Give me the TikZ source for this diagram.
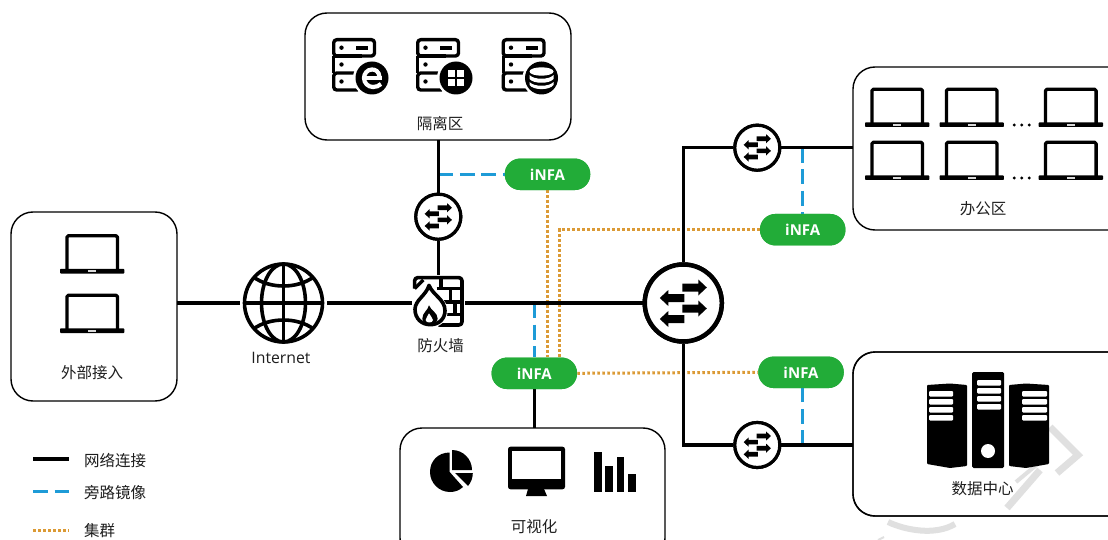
\documentclass[tikz,border=0pt]{standalone}
\usepackage{fontspec}
\setmainfont{Noto Sans CJK SC}
\newfontfamily\latinfont{Open Sans}
\definecolor{infagreen}{HTML}{22AC38}
\definecolor{mirrorblue}{HTML}{1E9BD7}
\definecolor{clusterorange}{HTML}{DB9A35}
\definecolor{txt}{HTML}{1E1E1E}
\definecolor{wmark}{HTML}{E0E0E0}
\tikzset{
  x=1pt,y=-1pt,
  zone/.style={draw=black,line width=1.4pt,rounded corners=22pt,fill=white},
  netline/.style={draw=black,line width=3.4pt},
  mirror/.style={draw=mirrorblue,line width=3pt,dash pattern=on 15pt off 6.5pt},
  cluster/.style={draw=clusterorange,line width=3pt,dash pattern=on 2.6pt off 2.4pt},
  infa/.style={fill=infagreen,rounded corners=15.5pt,minimum width=85.5pt,minimum height=31.5pt,inner sep=0pt,text=white,font=\latinfont\bfseries\fontsize{15}{15}\selectfont},
  lbl/.style={text=txt,inner sep=0pt,font=\fontsize{15.5}{15.5}\selectfont},
  sw/.style={circle,draw=black,fill=white,line width=3.2pt,inner sep=0pt,minimum size=45pt},
  swbig/.style={circle,draw=black,fill=white,line width=4.5pt,inner sep=0pt,minimum size=77pt},
  anchorpt/.style={inner sep=0pt,minimum size=0pt},
  wm/.style={draw=wmark,line width=7pt},
}
% laptop centred on x, base line at y
\newcommand{\laptop}[2]{%
 \begin{scope}[shift={(#1,#2)}]
  \draw[line width=3.3pt,line join=round,rounded corners=1.5pt] (-25.3,-1) -- (-25.3,-35.8) -- (25.3,-35.8) -- (25.3,-1);
  \fill[rounded corners=.8pt] (-32.2,-2.6) rectangle (32.2,2);
  \fill[black!15] (-4,-1.2) rectangle (4,.6);
 \end{scope}}
% switch arrows centred on the circle; #3 scales them
\newcommand{\swarrows}[3]{%
 \begin{scope}[shift={(#1,#2)},scale=#3]
  \foreach \yy/\dd in {-15.5/1,5.5/1,-5/-1,16/-1}{
   \fill[shift={(0,\yy)},xscale=\dd] (-1,-4) -- (15,-4) -- (15,-8) -- (23.5,0) -- (15,8) -- (15,4) -- (-1,4) -- cycle;
  }
 \end{scope}}
% server with a badge: #1 left x, #2 top y of the icon
\newcommand{\serverbase}[2]{%
 \begin{scope}[shift={(#1,#2)}]
  \draw[line width=3.4pt,line join=round,rounded corners=3pt] (1.7,1.7) rectangle (42.5,18);
  \draw[line width=3.4pt] (1.7,18) -- (1.7,35);
  \draw[line width=3.4pt,rounded corners=3pt] (26,35) -- (1.7,35) -- (1.7,52) -- (26,52);
  \draw[line width=3.4pt] (1.7,18) -- (30,18);
  \fill (9.5,9.7) circle (2.2);
  \fill (9.5,26.5) circle (2.2);
  \fill (9.5,43.5) circle (2.2);
  \fill (24,7.8) rectangle (36,11.8);
  \fill[white] (40,40) circle (19);
  \fill[black] (40,40) circle (16.5);
 \end{scope}}
\begin{document}
\begin{tikzpicture}
\useasboundingbox (0,0) rectangle (1108,540);
\fill[white] (0,0) rectangle (1108,540);

% zones
\draw[zone] (11,212) rectangle (177,401);
\draw[zone] (305,13) rectangle (571,140);
\draw[zone] (853,67) rectangle (1130,230);
\draw[zone] (853,352) rectangle (1130,516);
\draw[zone] (400,428) rectangle (665,560);

% watermark
\draw[wm,line join=miter] (1050,427) -- (1078,455) -- (1057,473);
\draw[wm] (1040,470) -- (1007,508);
\draw[wm,line width=4pt] (1016,482) -- (1040,462);
\draw[wm,line width=6pt] (888,522) .. controls (905,530) and (935,536) .. (955,524);
\draw[wm,line width=2pt] (878,540) -- (884,537);
\draw[zone,fill=none] (853,352) rectangle (1130,516);

\node[anchorpt] (ext) at (177,303) {};
\node[anchorpt] (dmz) at (438.3,140) {};
\node[anchorpt] (office) at (853,147.7) {};
\node[anchorpt] (dc) at (853,445) {};
\node[anchorpt] (vis) at (534.3,428) {};

% key nodes (shapes that the lines run into)
\node[circle,inner sep=0pt,minimum size=87pt] (net) at (283.5,303) {};
\node[inner sep=0pt,minimum width=50pt,minimum height=50pt] (fw) at (438.3,303) {};
\node[sw] (sw1) at (438.3,216.7) {};
\node[sw] (sw2) at (757.3,147.7) {};
\node[sw] (sw3) at (757.3,445) {};
\node[swbig] (core) at (683.3,303) {};
\node[infa] (i1) at (547.5,174.3) {};
\node[infa] (i2) at (802.7,229.7) {};
\node[infa] (i3) at (534.3,373.3) {};
\node[infa] (i4) at (801,372.3) {};

% junction coordinates
\coordinate (a1) at (438.3,174.3);
\coordinate (b1) at (559.5,229.7);
\coordinate (o1) at (802.3,147.7);
\coordinate (d1) at (802.3,445);
\coordinate (m1) at (534.3,303);
\coordinate (tl) at (683.3,147.7);
\coordinate (bl) at (683.3,445);

% cluster lines
\draw[cluster] (i1.south) -- (i1.south |- i3.north);
\draw[cluster] (i2.west) -- (b1) -- (b1 |- i3.north);
\draw[cluster] (i3.east) -- (i4.west);
% mirror lines
\draw[mirror] (a1) -- (i1.west);
\draw[mirror] (o1) -- (o1 |- i2.north);
\draw[mirror] (d1) -- (d1 |- i4.south);
\draw[mirror] (m1) -- (i3.north);
% network lines
\draw[netline] (ext) -- (net);
\draw[netline] (net) -- (fw);
\draw[netline] (fw) -- (core);
\draw[netline] (dmz) -- (sw1);
\draw[netline] (sw1) -- (fw);
\draw[netline] (core) -- (tl) -- (sw2);
\draw[netline] (sw2) -- (office);
\draw[netline] (core) -- (bl) -- (sw3);
\draw[netline] (sw3) -- (dc);
\draw[netline] (i3) -- (vis);
% nodes over the lines
\node[infa,text depth=0pt] at (i1) {\raisebox{-1pt}{iNFA}};
\node[infa] at (i2) {\raisebox{-1pt}{iNFA}};
\node[infa] at (i3) {\raisebox{-1pt}{iNFA}};
\node[infa] at (i4) {\raisebox{-1pt}{iNFA}};
\node[sw] at (sw1) {};
\node[sw] at (sw2) {};
\node[sw] at (sw3) {};
\node[swbig] at (core) {};
\swarrows{438.3}{216.7}{.58}
\swarrows{757.3}{147.7}{.58}
\swarrows{757.3}{445}{.58}
\swarrows{683.3}{303}{1}

% globe
\begin{scope}[shift={(283.5,303)},line width=3.6pt]
 \draw (0,0) circle (39);
 \draw (0,-39) -- (0,39);
 \draw (-39,0) -- (39,0);
 \draw (0,0) ellipse (22 and 39);
 \draw (-30,-26) .. controls (-14,-14) and (14,-14) .. (30,-26);
 \draw (-30,26) .. controls (-14,14) and (14,14) .. (30,26);
\end{scope}

% firewall
\fill[white] (412,275) rectangle (465,328);
\begin{scope}[shift={(405,268)},scale=.3333]
 \draw[line width=3.6pt,line join=round,rounded corners=3pt] (29,62) -- (29,29) -- (171,29) -- (171,171) -- (100,171);
 \draw[line width=3.6pt] (108,29) -- (108,62) (95,62) -- (171,62) (136,62) -- (136,102) (118,102) -- (171,102) (150,102) -- (150,140) (125,140) -- (171,140);
 \draw[line width=3.4pt] (29,62) -- (55,36);
 \fill[white] (72,42) .. controls (85,75) and (128,92) .. (128,128) .. controls (128,160) and (104,178) .. (78,178) .. controls (46,178) and (22,158) .. (22,124) .. controls (22,92) and (62,76) .. (72,42) -- cycle;
 \draw[line width=3.6pt,line join=round] (72,52) .. controls (84,82) and (120,94) .. (120,128) .. controls (120,154) and (100,170) .. (76,170) .. controls (50,170) and (30,152) .. (30,124) .. controls (30,96) and (64,82) .. (72,52) -- cycle;
 \fill (72,112) .. controls (78,128) and (98,134) .. (98,152) .. controls (98,162) and (86,168) .. (74,168) .. controls (62,168) and (52,162) .. (52,152) .. controls (52,134) and (68,128) .. (72,112) -- cycle;
 \fill[white] (72,136) .. controls (74,144) and (84,148) .. (84,156) .. controls (84,166) and (62,166) .. (62,156) .. controls (62,148) and (70,144) .. (72,136) -- cycle;
\end{scope}

% external laptops
\laptop{92.2}{271.5}
\laptop{92.2}{331}

% servers
\serverbase{332}{38}
\serverbase{416}{38}
\serverbase{501.5}{38}
% e badge
\begin{scope}[shift={(372,78)}]
 \fill[white] (-9.5,-1.5) rectangle (9.5,1.8);
 \draw[white,line width=4.2pt] (7.5,-1) .. controls (7,-7) and (3,-8.5) .. (0,-8.5) .. controls (-5,-8.5) and (-8,-4) .. (-8,0) .. controls (-8,5) and (-4,9) .. (1,9) .. controls (4,9) and (7,8) .. (9,6);
\end{scope}
% grid badge
\begin{scope}[shift={(456,78)}]
 \fill[white] (-7.7,-7.7) rectangle (-1.2,-1.2);
 \fill[white] (1.2,-7.7) rectangle (7.7,-1.2);
 \fill[white] (-7.7,1.2) rectangle (-1.2,7.7);
 \fill[white] (1.2,1.2) rectangle (7.7,7.7);
\end{scope}
% database badge
\begin{scope}[shift={(541.5,78)}]
 \fill[white] (0,-6.5) ellipse (12 and 4.2);
 \fill[white] (-12,-3) .. controls (-8,2) and (8,2) .. (12,-3) -- (12,1) .. controls (8,6) and (-8,6) .. (-12,1) -- cycle;
 \fill[white] (-12,4) .. controls (-8,9) and (8,9) .. (12,4) -- (12,7) .. controls (8,12.5) and (-8,12.5) .. (-12,7) -- cycle;
\end{scope}

% office laptops
\laptop{897.2}{125}
\laptop{971.7}{125}
\laptop{1070.8}{125}
\laptop{897.2}{178}
\laptop{971.7}{178}
\laptop{1070.8}{178}
\foreach \yy in {125,178}{\foreach \xx in {1014.3,1021.7,1029.3}{\fill (\xx,\yy) circle (1.6);}}

% data centre
\fill[rounded corners=1pt] (927,385) -- (950,383.5) -- (967,385) -- (967,466) -- (950,468) -- (927,464) -- cycle;
\fill[rounded corners=1pt] (1009,385) -- (1026,383.5) -- (1049,385) -- (1049,464) -- (1026,468) -- (1009,466) -- cycle;
\fill[rounded corners=1.5pt] (972,372) rectangle (1004,468);
\foreach \yy in {391,399,407,415}{
  \fill[white,rounded corners=1pt] (929,\yy) rectangle (953,\yy+5.5);
  \fill[white,rounded corners=1pt] (1022,\yy) rectangle (1047,\yy+5.5);
}
\foreach \yy in {380,388,396,404}{
  \fill[white,rounded corners=1pt] (977,\yy) rectangle (1001,\yy+5.5);
}
\fill[white] (988,451) circle (7);

% visual icons
\fill (449.7,472) -- (449.7,452.5) .. controls (438,452.5) and (430,461) .. (430,472) .. controls (430,483) and (439,492) .. (450,492) .. controls (455,492) and (459,490.5) .. (463,487) -- cycle;
\fill (452,450) .. controls (463,450) and (472,459) .. (472,470) -- (452,470) -- cycle;
\fill (455,473) -- (472.8,473) .. controls (472.8,478) and (471,482.5) .. (468,486) -- cycle;
\fill[rounded corners=2.5pt] (508,446.7) rectangle (565,489.3);
\fill[white] (512,450.5) rectangle (561,478.5);
\fill (528,489) -- (544,489) -- (547,496) -- (526,496) -- cycle;
\fill (594,452) rectangle (601.7,492);
\fill (605,465.7) rectangle (612.7,492);
\fill (616.7,456.7) rectangle (624,492);
\fill (628.3,474) rectangle (635.7,492);

% labels
\node[lbl] at (92,372.5) {外部接入};
\node[lbl,font=\latinfont\fontsize{15.8}{15.8}\selectfont] at (281,358) {Internet};
\node[lbl] at (440.5,346) {防火墙};
\node[lbl] at (440,124) {隔离区};
\node[lbl] at (983,209) {办公区};
\node[lbl] at (982.5,489) {数据中心};
\node[lbl] at (534,527) {可视化};

% legend
\coordinate (l1a) at (33,459); \coordinate (l1b) at (69,459);
\coordinate (l2a) at (33,491.5); \coordinate (l2b) at (69,491.5);
\coordinate (l3a) at (33,530.5); \coordinate (l3b) at (69,530.5);
\draw[netline] (l1a) -- (l1b);
\draw[mirror] (l2a) -- (l2b);
\draw[cluster] (l3a) -- (l3b);
\node[lbl,anchor=west] at (84,460.5) {网络连接};
\node[lbl,anchor=west] at (84,492.5) {旁路镜像};
\node[lbl,anchor=west] at (84,531) {集群};
\end{tikzpicture}
\end{document}
